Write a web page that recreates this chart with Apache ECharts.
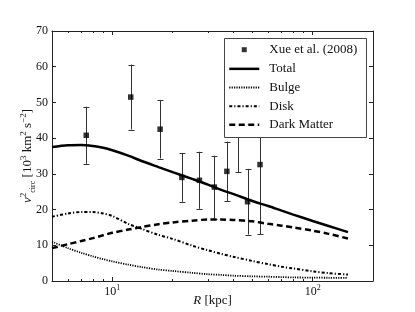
<!DOCTYPE html>
<html><head><meta charset="utf-8">
<script src="https://cdn.jsdelivr.net/npm/echarts@6/dist/echarts.min.js"></script>
<style>html,body{margin:0;padding:0;background:#fff}#c{width:415px;height:312px}</style>
</head><body><div id="c"></div>
<script>
// ---- data ----
const curveR     = [5, 6, 7, 8, 9, 10, 12, 14, 17, 20, 25, 30, 35, 40, 50, 60, 70, 80, 100, 120, 150];
const total      = [37.5, 38.0, 38.1, 37.8, 37.3, 36.6, 35.1, 33.6, 31.9, 30.5, 28.6, 27.0, 25.5, 24.4, 22.4, 21.0, 19.7, 18.6, 16.8, 15.4, 13.7];
const bulge      = [11.0, 9.2, 7.9, 6.9, 6.1, 5.5, 4.6, 3.9, 3.2, 2.8, 2.3, 1.9, 1.7, 1.5, 1.3, 1.2, 1.1, 1.0, 0.95, 0.9, 0.85];
const disk       = [18.0, 18.9, 19.3, 19.3, 18.9, 18.2, 16.0, 14.6, 12.9, 11.8, 9.9, 8.6, 7.6, 6.8, 5.6, 4.7, 4.0, 3.5, 2.7, 2.2, 1.8];
const darkMatter = [9.2, 10.3, 11.2, 12.0, 12.8, 13.5, 14.4, 15.1, 15.9, 16.4, 16.9, 17.2, 17.2, 17.1, 16.7, 16.0, 15.5, 15.0, 14.1, 13.2, 11.9];
const obsR   = [7.41, 12.36, 17.32, 22.23, 27.2, 32.3, 37.3, 42.4, 47.3, 54.6];
const obsV   = [40.8, 51.5, 42.5, 29.0, 28.2, 26.3, 30.7, 42.0, 22.2, 32.6];
const obsErr = [8.0, 9.1, 8.2, 6.8, 8.0, 8.8, 8.3, 11.6, 9.2, 19.5];
const xMajorTicks = [10, 100];
const xMinorTicks = [6, 7, 8, 9, 20, 30, 40, 50, 60, 70, 80, 90];
const yMin = 0, yMax = 70, yStep = 10;
const seriesNames = ['Xue et al. (2008)', 'Total', 'Bulge', 'Disk', 'Dark Matter'];

// ---- chart ----
const serif = "'Liberation Serif', 'DejaVu Serif', serif";
const txt = '#111';
const ax = '#222';
const zip = (xs, ys) => xs.map((x, i) => [x, ys[i]]);

const xBase = {type: 'log', logBase: 10, min: 5, max: 200, splitLine: {show: false},
  minorTick: {show: false}, minorSplitLine: {show: false}};
const yBase = {type: 'value', min: yMin, max: yMax, interval: yStep, splitLine: {show: false}};

const supRich = {
  b: {fontFamily: serif, fontSize: 12, color: txt, lineHeight: 16},
  s: {fontFamily: serif, fontSize: 8, color: txt, lineHeight: 10, verticalAlign: 'top'}
};
const nameRich = {
  i: {fontFamily: serif, fontSize: 13, color: txt, fontStyle: 'italic', lineHeight: 18},
  t: {fontFamily: serif, fontSize: 13, color: txt, lineHeight: 18},
  sup: {fontFamily: serif, fontSize: 9, color: txt, lineHeight: 11, verticalAlign: 'top'},
  sub: {fontFamily: serif, fontSize: 8, color: txt, lineHeight: 9, verticalAlign: 'bottom'}
};

const errData = obsR.map((r, i) => [r, obsV[i] - obsErr[i], obsV[i] + obsErr[i]]);
const noSym = {color: 'rgba(0,0,0,0)', borderWidth: 0};
const gridBox = {left: 52, right: 42, top: 31, bottom: 31, containLabel: false, outerBoundsMode: 'none'};

const option = {
  animation: false,
  backgroundColor: '#fff',
  grid: [Object.assign({}, gridBox), Object.assign({}, gridBox)],
  xAxis: [
    Object.assign({}, xBase, {gridIndex: 0, position: 'bottom',
      axisLine: {show: true, onZero: false, lineStyle: {color: ax, width: 1}},
      axisTick: {show: true, inside: true, length: 4, customValues: xMajorTicks, lineStyle: {color: ax}},
      axisLabel: {show: true, customValues: xMajorTicks, margin: 3,
        formatter: v => '{b|10}{s|' + Math.round(Math.log10(v)) + '}', rich: supRich},
      name: '{i|R}{t| [kpc]}', nameLocation: 'middle', nameGap: 11, nameMoveOverlap: false,
      nameTextStyle: {rich: nameRich}}),
    Object.assign({}, xBase, {gridIndex: 0, position: 'top',
      axisLine: {show: true, onZero: false, lineStyle: {color: ax, width: 1}},
      axisTick: {show: true, inside: true, length: 4, customValues: xMajorTicks, lineStyle: {color: ax}},
      axisLabel: {show: false}}),
    Object.assign({}, xBase, {gridIndex: 1, position: 'bottom',
      axisLine: {show: false, onZero: false},
      axisTick: {show: true, inside: true, length: 2, customValues: xMinorTicks, lineStyle: {color: ax}},
      axisLabel: {show: false}}),
    Object.assign({}, xBase, {gridIndex: 1, position: 'top',
      axisLine: {show: false, onZero: false},
      axisTick: {show: true, inside: true, length: 2, customValues: xMinorTicks, lineStyle: {color: ax}},
      axisLabel: {show: false}})
  ],
  yAxis: [
    Object.assign({}, yBase, {gridIndex: 0, position: 'left',
      axisLine: {show: true, onZero: false, lineStyle: {color: ax, width: 1}},
      axisTick: {show: true, inside: true, length: 4, lineStyle: {color: ax}},
      axisLabel: {show: true, margin: 4, fontFamily: serif, fontSize: 12, color: txt},
      name: '{i|v}{sup|2}{sub|circ}{t| [10}{sup|3}{t| km}{sup|2}{t| s}{sup|−2}{t|]}',
      nameLocation: 'middle', nameRotate: 90, nameGap: 15, nameMoveOverlap: false,
      nameTextStyle: {rich: nameRich}}),
    Object.assign({}, yBase, {gridIndex: 0, position: 'right',
      axisLine: {show: true, onZero: false, lineStyle: {color: ax, width: 1}},
      axisTick: {show: true, inside: true, length: 4, lineStyle: {color: ax}},
      axisLabel: {show: false}}),
    Object.assign({}, yBase, {gridIndex: 1, show: false})
  ],
  legend: {
    orient: 'vertical', left: 228, top: 42.7, padding: 0,
    itemWidth: 30, itemHeight: 14, itemGap: 5.65,
    textStyle: {fontFamily: serif, fontSize: 13, color: txt, padding: [0, 0, 0, 5]},
    data: [
      {name: seriesNames[0], icon: 'path://M0 0M30 14M12.5 4.5L17.5 4.5L17.5 9.5L12.5 9.5Z'},
      {name: seriesNames[1], lineStyle: {width: 2.5}, itemStyle: noSym},
      {name: seriesNames[2], lineStyle: {width: 1.8}, itemStyle: noSym},
      {name: seriesNames[3], lineStyle: {width: 2}, itemStyle: noSym},
      {name: seriesNames[4], lineStyle: {width: 2.5}, itemStyle: noSym}
    ]
  },
  graphic: {elements: [{
    type: 'rect', z: 3,
    shape: {x: 224.5, y: 38.5, width: 142, height: 99},
    style: {fill: '#fff', stroke: '#444', lineWidth: 1}
  }]},
  series: [
    {type: 'custom', name: 'err', xAxisIndex: 0, yAxisIndex: 0, z: 2,
      data: errData, encode: {x: 0, y: [1, 2]},
      renderItem: (params, api) => {
        const lo = api.coord([api.value(0), api.value(1)]);
        const hi = api.coord([api.value(0), api.value(2)]);
        const x = Math.round(lo[0]) + 0.5;
        const st = {stroke: '#333', lineWidth: 1};
        return {type: 'group', children: [
          {type: 'line', shape: {x1: x, y1: lo[1], x2: x, y2: hi[1]}, style: st},
          {type: 'line', shape: {x1: x - 3, y1: Math.round(lo[1]) + 0.5, x2: x + 3, y2: Math.round(lo[1]) + 0.5}, style: st},
          {type: 'line', shape: {x1: x - 3, y1: Math.round(hi[1]) + 0.5, x2: x + 3, y2: Math.round(hi[1]) + 0.5}, style: st}
        ]};
      }},
    {type: 'scatter', name: seriesNames[0], xAxisIndex: 0, yAxisIndex: 0, z: 2.5,
      data: zip(obsR, obsV), symbol: 'rect', symbolSize: 5.5,
      itemStyle: {color: '#000'}},
    {type: 'line', name: seriesNames[1], xAxisIndex: 0, yAxisIndex: 0, data: zip(curveR, total),
      symbol: 'none', smooth: 0.3, lineStyle: {color: '#000', width: 2.5}, itemStyle: {color: '#000'}},
    {type: 'line', name: seriesNames[2], xAxisIndex: 0, yAxisIndex: 0, data: zip(curveR, bulge),
      symbol: 'none', smooth: 0.3, lineStyle: {color: '#000', width: 1.8, type: [1.2, 1.2]}, itemStyle: {color: '#000'}},
    {type: 'line', name: seriesNames[3], xAxisIndex: 0, yAxisIndex: 0, data: zip(curveR, disk),
      symbol: 'none', smooth: 0.3, lineStyle: {color: '#000', width: 2, type: [3, 2, 1.2, 2]}, itemStyle: {color: '#000'}},
    {type: 'line', name: seriesNames[4], xAxisIndex: 0, yAxisIndex: 0, data: zip(curveR, darkMatter),
      symbol: 'none', smooth: 0.3, lineStyle: {color: '#000', width: 2.5, type: [6, 3.5]}, itemStyle: {color: '#000'}}
  ]
};
const chart = echarts.init(document.getElementById('c'), null, {renderer: 'canvas'});
chart.setOption(option);
</script>
</body></html>
